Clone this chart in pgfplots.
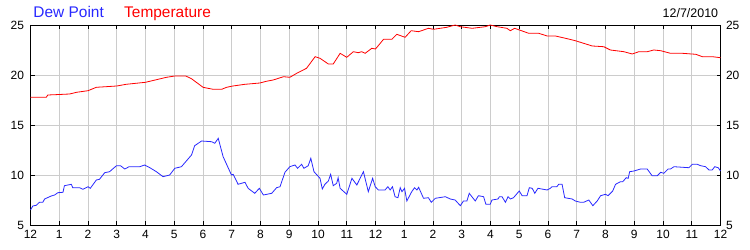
\documentclass[border=0pt]{standalone}
\usepackage{pgfplots}
\pgfplotsset{compat=1.18}
\usepackage{fontspec}
\setmainfont{Liberation Sans}
\definecolor{dewblue}{RGB}{40,40,255}
\definecolor{tempred}{RGB}{255,0,0}
\definecolor{gridgray}{RGB}{204,204,204}
\begin{document}
\begin{tikzpicture}
\useasboundingbox (-30.5bp,-25bp) rectangle (719.5bp,225bp);
\begin{axis}[
  at={(0,0)}, anchor=south west,
  scale only axis, width=690bp, height=200bp,
  xmin=0, xmax=24, ymin=5, ymax=25,
  xtick={0,1,...,24},
  xticklabels={12,1,2,3,4,5,6,7,8,9,10,11,12,1,2,3,4,5,6,7,8,9,10,11,12},
  ytick={5,10,15,20,25},
  grid=major,
  major grid style={gridgray, line width=0.8bp},
  axis line style={black, line width=0.8bp},
  tick align=inside,
  major tick length=4bp,
  tick style={black, line width=0.8bp},
  xtick pos=both, ytick pos=both,
  tick label style={font=\fontsize{12}{14}\selectfont},
  /pgf/number format/assume math mode=true,
  xticklabel style={yshift=-2bp},
  yticklabel style={xshift=-3bp},
  clip=false,
]
\addplot[tempred, line width=0.8bp] coordinates {
(0,17.77)(0.55,17.77)(0.6,18.0)(1.0,18.05)(1.36,18.1)(1.6,18.27)(2.0,18.43)(2.29,18.77)(3.0,18.9)(3.33,19.07)(4.0,19.27)(4.73,19.77)(5.02,19.9)(5.4,19.9)(5.6,19.63)(6.0,18.77)(6.35,18.57)(6.65,18.57)(6.82,18.77)(7.04,18.9)(7.46,19.07)(7.98,19.2)(8.2,19.37)(8.44,19.5)(8.8,19.83)(9.02,19.77)(9.26,20.17)(9.6,20.67)(9.9,21.83)(10.07,21.67)(10.36,21.1)(10.53,21.1)(10.77,22.17)(11.0,21.77)(11.23,22.33)(11.4,22.23)(11.52,22.33)(11.64,22.17)(11.87,22.67)(12.0,22.6)(12.28,23.57)(12.57,23.57)(12.74,24.07)(13.03,23.77)(13.24,24.43)(13.5,24.33)(13.84,24.67)(14.02,24.57)(14.48,24.77)(14.77,25.0)(14.95,24.83)(15.36,24.67)(15.82,24.83)(15.99,25.0)(16.23,24.83)(16.57,24.67)(16.69,24.43)(16.84,24.67)(17.33,24.17)(17.68,24.17)(17.97,23.9)(18.26,23.9)(18.61,23.67)(18.95,23.43)(19.54,22.9)(19.94,22.83)(20.17,22.5)(20.64,22.33)(20.93,22.1)(21.16,22.33)(21.45,22.33)(21.68,22.5)(21.92,22.43)(22.26,22.17)(22.67,22.17)(23.14,22.07)(23.37,21.83)(23.72,21.83)(24,21.73)
};
\addplot[dewblue, line width=0.8bp] coordinates {
(0,6.5)(0.08,6.9)(0.2,6.97)(0.31,7.27)(0.43,7.27)(0.49,7.6)(0.72,7.9)(0.84,8.0)(0.95,8.23)(1.13,8.27)(1.18,8.93)(1.42,9.07)(1.47,8.73)(1.71,8.73)(1.82,8.57)(2.0,8.83)(2.08,8.67)(2.29,9.5)(2.4,9.57)(2.58,10.23)(2.75,10.33)(2.99,10.93)(3.13,10.93)(3.28,10.6)(3.43,10.83)(3.8,10.83)(3.97,11.0)(4.15,10.73)(4.38,10.33)(4.61,9.83)(4.84,10.0)(5.02,10.67)(5.25,10.83)(5.42,11.4)(5.6,12.0)(5.71,12.93)(5.95,13.4)(6.3,13.33)(6.41,13.17)(6.53,13.67)(6.7,11.83)(6.99,10.0)(7.05,10.07)(7.22,9.07)(7.46,9.27)(7.57,8.67)(7.8,8.17)(7.96,8.67)(8.1,8.0)(8.39,8.17)(8.56,8.73)(8.68,8.83)(8.85,10.27)(9.02,10.83)(9.2,11.0)(9.29,10.67)(9.43,11.07)(9.51,10.67)(9.66,10.93)(9.75,11.67)(9.86,10.33)(10.07,9.67)(10.15,8.6)(10.24,9.07)(10.36,9.4)(10.44,10.07)(10.53,8.93)(10.65,9.17)(10.7,9.73)(10.77,8.67)(11.0,8.07)(11.18,9.67)(11.35,9.0)(11.58,10.33)(11.75,8.33)(11.9,9.67)(11.99,8.83)(12.1,8.5)(12.33,8.5)(12.43,8.83)(12.51,8.5)(12.59,8.83)(12.68,7.83)(12.78,7.73)(12.86,8.73)(12.92,8.33)(13.01,8.67)(13.09,7.4)(13.26,8.33)(13.36,8.73)(13.44,8.5)(13.5,8.77)(13.67,7.67)(13.84,7.73)(13.94,7.27)(14.08,7.67)(14.43,7.83)(14.6,7.6)(14.77,7.5)(14.95,6.93)(15.06,7.4)(15.18,7.4)(15.26,8.17)(15.47,7.4)(15.58,7.93)(15.76,7.83)(15.84,7.07)(15.99,7.07)(16.05,7.5)(16.26,7.6)(16.31,7.83)(16.4,7.83)(16.52,7.27)(16.61,7.83)(16.69,7.6)(16.8,7.73)(17.0,8.4)(17.1,7.93)(17.27,7.93)(17.35,8.73)(17.45,8.67)(17.54,8.17)(17.65,8.67)(17.97,8.5)(18.08,8.67)(18.14,8.83)(18.31,8.83)(18.37,9.07)(18.49,9.07)(18.58,7.73)(18.84,7.6)(18.95,7.4)(19.13,7.27)(19.24,7.27)(19.42,7.5)(19.56,6.93)(19.71,7.4)(19.83,7.93)(20.0,8.07)(20.09,7.93)(20.25,8.4)(20.35,9.07)(20.52,9.33)(20.6,9.33)(20.72,9.73)(20.79,9.67)(20.84,10.33)(20.99,10.4)(21.22,10.6)(21.45,10.6)(21.62,9.93)(21.8,9.93)(21.92,10.27)(22.03,10.17)(22.18,10.6)(22.26,10.6)(22.38,10.83)(22.9,10.73)(23.02,11.07)(23.19,11.07)(23.31,10.93)(23.48,10.83)(23.6,10.5)(23.71,10.5)(23.8,10.83)(23.92,10.73)(24,10.4)
};
\end{axis}
\begin{axis}[
  at={(0,0)}, anchor=south west,
  scale only axis, width=690bp, height=200bp,
  xmin=0, xmax=24, ymin=5, ymax=25,
  xtick=\empty,
  ytick={5,10,15,20,25},
  yticklabel pos=right,
  axis line style={draw=none},
  major tick length=0pt,
  tick label style={font=\fontsize{12}{14}\selectfont},
  /pgf/number format/assume math mode=true,
  yticklabel style={xshift=2bp},
]
\end{axis}
\node[anchor=base west, font=\fontsize{15.5}{18}\selectfont, text=dewblue, inner sep=0pt] at (2.8bp,207.7bp) {Dew Point};
\node[anchor=base west, font=\fontsize{15.5}{18}\selectfont, text=tempred, inner sep=0pt] at (93.5bp,207.7bp) {Temperature};
\node[anchor=base east, font=\fontsize{12.5}{14}\selectfont, text=black, inner sep=0pt] at (687.8bp,207bp) {12/7/2010};
\end{tikzpicture}
\end{document}
